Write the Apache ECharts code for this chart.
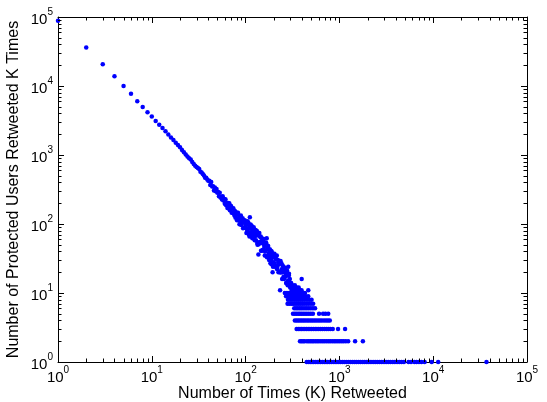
<!DOCTYPE html>
<html><head><meta charset="utf-8">
<script src="https://cdn.jsdelivr.net/npm/echarts@6/dist/echarts.min.js"></script>
<style>html,body{margin:0;padding:0;background:#fff;}#c{width:547px;height:402px;}</style>
</head><body><div id="c"></div>
<script>
// ---- data (K = times retweeted, count = users) ----
const headK = [1,2,3,4,5,6,7,8,9,10,11,12,13,14,15,16,17,18,19,20,21,22,23,24,25,26,27,28,29,30,31,32,33,34,35,36,37,38,39,40];
const headCounts = [88000,36000,20600,13900,10000,7700,6000,4950,4150,3600,3100,2750,2460,2200,1990,1800,1650,1510,1400,1290,1180,1100,1020,950,900,860,790,740,700,670,650,625,570,560,530,505,470,470,440,425];

const cloudK = [41,42,43,44,45,46,47,48,49,50,51,52,53,54,55,56,57,58,59,60,61,62,63,64,65,66,67,68,69,70,71,72,73,74,75,76,77,78,79,80,81,82,83,84,85,86,87,88,89,90,91,92,93,94,95,96,97,98,99,100,
 101,102,103,104,105,106,107,108,109,110,111,112,113,114,115,116,117,118,119,120,121,122,123,124,125,126,127,128,129,130,
 132,134,136,138,140,142,144,146,148,150,152,154,156,158,160,162,164,166,168,170,172,174,176,178,180,182,184,186,188,190,192,194,196,198,200,
 133,137,141,145,149,153,157,161,165,169,173,177,181,185,189,193,197,
 203,206,209,212,215,218,221,224,227,230,233,236,239,242,245,248,251,254,257,260,263,266,269,272,275,278,281,284,287,290,293,296,299,
 205,211,217,223,229,235,241,247,253,259,265,271,277,283,289,295,
 302,306,311,316,322,328,335,342,350,358,368,380,395];
const cloudCount = [425,367,405,349,352,306,339,298,321,284,292,253,284,242,249,226,252,219,231,197,229,187,204,170,201,177,200,158,174,182,145,167,146,169,146,133,154,123,142,147,113,137,146,113,123,99,131,109,133,97,118,104,121,87,105,111,88,113,88,95,
 108,74,99,80,110,85,104,71,89,66,94,76,98,69,85,94,70,62,85,78,63,90,68,81,58,76,67,82,58,70,
 79,50,68,51,74,53,64,41,56,61,42,61,43,48,35,52,41,52,34,45,34,48,37,30,42,39,27,41,30,40,27,33,24,34,28,
 53,69,55,66,41,52,55,40,54,33,43,33,43,34,26,37,34,
 37,24,31,24,35,24,30,20,26,29,20,29,20,22,16,25,20,24,16,21,17,23,18,14,20,18,13,19,15,19,13,16,12,
 26,34,22,28,28,20,27,20,17,22,20,14,21,15,18,13,
 12,14,11,13,12,11,13,11,12,11,12,11,11];

const outlierK = [111,137,168,194,233,285,396,466];
const outlierCount = [125,36,62,20,11,24,16,11];

// integer-count bands at the low end: K values where the count equals the band value
const bandValues = [1,2,3,4,5,6,7,8,9,10];
const bandK1 = [448,470,490,510,530,555,580,605,630,660,690,720,750,785,820,860,900,940,985,1030,1080,1130,1190,1250,1310,1380,1450,1520,1600,1680,1770,1860,1960,2060,2170,2290,2410,2540,2680,2830,2990,3150,3320,3500,3700,3900,4120,4350,4600,4870,5450,5800,6300,6650,7050,7500,8100,9640,11300,37000];
const bandK2 = [380,395,410,425,450,470,490,510,530,555,580,605,635,665,695,730,765,800,840,880,920,965,1010,1060,1110,1170,1240,1470,1780];
const bandK3 = [350,365,380,395,410,428,446,465,485,505,528,552,576,602,630,660,692,725,760,800,850,967,1150];
const bandK4 = [335,350,365,380,397,414,432,452,472,494,516,540,565,592,620,650,685,720,755,790];
const bandK5 = [320,334,348,363,378,394,411,430,450,472,496,522,607,670,710,760];
const bandK6 = [330,345,360,376,392,410,430,450,472,496,522,550];
const bandK7 = [280,294,308,322,337,352,368,385,403,422,445,470,497,525];
const bandK8 = [283,298,313,330,347,365,385,405,428,452,478,505];
const bandK9 = [270,285,300,316,333,351,370,390,412,435,465];
const bandK10 = [262,276,291,307,324,342,361,382,405,430];

const tickExponents = [0,1,2,3,4,5];
const minorMultipliers = [2,3,4,5,6,7,8,9];

// ---- build ----
const pts = [];
headK.forEach((k,i)=>pts.push([k, headCounts[i]]));
cloudK.forEach((k,i)=>pts.push([k, cloudCount[i]]));
outlierK.forEach((k,i)=>pts.push([k, outlierCount[i]]));
const bands = [bandK1,bandK2,bandK3,bandK4,bandK5,bandK6,bandK7,bandK8,bandK9,bandK10];
bands.forEach((arr,bi)=>arr.forEach(k=>pts.push([k, bandValues[bi]])));

const minorVals = [];
tickExponents.slice(0,5).forEach(e=>minorMultipliers.forEach(m=>minorVals.push(m*Math.pow(10,e))));

const FONT = 'Liberation Sans, Arial, Helvetica, sans-serif';
const rich = {
  b:{fontSize:15, fontFamily:FONT, color:'#000', verticalAlign:'bottom', lineHeight:20},
  s:{fontSize:10, fontFamily:FONT, color:'#000', verticalAlign:'top', lineHeight:10}
};
const fmt = v => '{b|10}{s|' + Math.round(Math.log10(v)) + '}';
const lineStyle = {color:'#000', width:1};

const logAxisBase = {type:'log', logBase:10, min:1, max:100000, splitNumber:5,
  splitLine:{show:false}, axisLine:{show:true, onZero:false, lineStyle},
  axisTick:{show:true, inside:true, length:6, lineStyle}};

const chart = echarts.init(document.getElementById('c'), null, {renderer:'canvas'});
chart.setOption({
  animation:false,
  backgroundColor:'#fff',
  grid:{left:58, right:20, top:17, bottom:40, containLabel:false, outerBoundsMode:'none'},
  xAxis:[
    Object.assign({}, logAxisBase, {position:'bottom',
      axisLabel:{formatter:fmt, rich, margin:3},
      name:'Number of Times (K) Retweeted', nameLocation:'middle', nameGap:24, nameMoveOverlap:false,
      nameTextStyle:{fontSize:16, fontFamily:FONT, color:'#000'}}),
    Object.assign({}, logAxisBase, {position:'top', axisLabel:{show:false}})
  ],
  yAxis:[
    Object.assign({}, logAxisBase, {position:'left',
      axisLabel:{formatter:fmt, rich, margin:5},
      name:'Number of Protected Users Retweeted K Times', nameLocation:'middle', nameGap:36, nameMoveOverlap:false,
      nameTextStyle:{fontSize:16, fontFamily:FONT, color:'#000'}}),
    Object.assign({}, logAxisBase, {position:'right', axisLabel:{show:false}})
  ],
  series:[
    {type:'scatter', xAxisIndex:0, yAxisIndex:0, data:pts, symbol:'circle', symbolSize:4.5,
     itemStyle:{color:'#0000ff', opacity:1}, silent:true, z:5},
    {type:'custom', xAxisIndex:0, yAxisIndex:0, silent:true, z:6, clip:false,
     data:minorVals.map(v=>[v,1]),
     renderItem:(params, api)=>{
       const x = Math.round(api.coord([api.value(0),1])[0]) + 0.5;
       const cs = params.coordSys;
       const b = cs.y + cs.height, t = cs.y;
       return {type:'group', children:[
         {type:'line', shape:{x1:x,y1:b,x2:x,y2:b-3.5}, style:{stroke:'#000',lineWidth:1}},
         {type:'line', shape:{x1:x,y1:t,x2:x,y2:t+3.5}, style:{stroke:'#000',lineWidth:1}}
       ]};
     }},
    {type:'custom', xAxisIndex:0, yAxisIndex:0, silent:true, z:6, clip:false,
     data:minorVals.map(v=>[1,v]),
     renderItem:(params, api)=>{
       const y = Math.round(api.coord([1,api.value(1)])[1]) + 0.5;
       const cs = params.coordSys;
       const l = cs.x, r = cs.x + cs.width;
       return {type:'group', children:[
         {type:'line', shape:{x1:l,y1:y,x2:l+3.5,y2:y}, style:{stroke:'#000',lineWidth:1}},
         {type:'line', shape:{x1:r,y1:y,x2:r-3.5,y2:y}, style:{stroke:'#000',lineWidth:1}}
       ]};
     }}
  ]
});
</script></body></html>
